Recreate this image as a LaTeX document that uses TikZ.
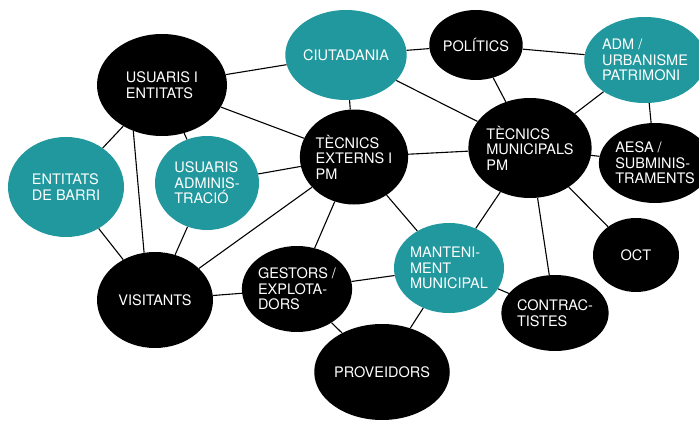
\documentclass[tikz,border=0pt]{standalone}
\usepackage{fontspec}
\setmainfont{TeX Gyre Heros}
\usetikzlibrary{shapes.geometric}
\definecolor{tealblob}{RGB}{32,152,158}
\tikzset{
    blob/.style={ellipse, inner sep=0pt, text=white, align=left,
        font=\fontsize{14.5}{15.5}\selectfont},
    darkblob/.style={blob, fill=black},
    tealblob/.style={blob, fill=tealblob},
    link/.style={draw=black, line width=1.1pt}
}
\begin{document}
\begin{tikzpicture}[x=1pt, y=-1pt]
        \useasboundingbox (0,0) rectangle (699,428);
        % nodes (positions in pixels of the sketch)
        \node[darkblob, minimum width=130, minimum height=102] (ue) at (162,85) {USUARIS I\\ENTITATS};
        \node[tealblob, minimum width=106, minimum height=90] (ciu) at (346,55) {CIUTADANIA};
        \node[darkblob, minimum width=92, minimum height=70] (pol) at (476,45) {POLÍTICS};
        \node[tealblob, minimum width=104, minimum height=86] (adm) at (645,60) {ADM /\\URBANISME\\PATRIMONI};
        \node[darkblob, minimum width=104, minimum height=100] (tm) at (530,148) {TÈCNICS\\MUNICIPALS\\PM};
        \node[darkblob, minimum width=86, minimum height=80] (aesa) at (655,163) {AESA /\\SUBMINIS-\\TRAMENTS};
        \node[darkblob, minimum width=96, minimum height=95] (te) at (354,157) {TÈCNICS\\EXTERNS I\\PM};
        \node[tealblob, minimum width=116, minimum height=100] (eb) at (66,187) {ENTITATS\\DE BARRI};
        \node[tealblob, minimum width=104, minimum height=94] (ua) at (207,183) {USUARIS\\ADMINIS-\\TRACIÓ};
        \node[darkblob, minimum width=116, minimum height=96] (vis) at (155,300) {VISITANTS};
        \node[darkblob, minimum width=104, minimum height=86] (ge) at (297,289) {GESTORS /\\EXPLOTA-\\DORS};
        \node[darkblob, minimum width=116, minimum height=96] (prov) at (382,372) {PROVEIDORS};
        \node[tealblob, minimum width=108, minimum height=90] (mm) at (449,268) {MANTENI-\\MENT\\MUNICIPAL};
        \node[darkblob, minimum width=86, minimum height=76] (con) at (555,313) {CONTRAC-\\TISTES};
        \node[darkblob, minimum width=86, minimum height=74] (oct) at (636,255) {OCT};
        % connectors
        \foreach \a/\b in {ue/ciu, ue/te, ue/eb, ue/ua, eb/vis, ua/vis, ua/te,
            ciu/pol, ciu/tm, ciu/te, pol/adm, pol/tm, adm/tm, adm/aesa, tm/aesa,
            tm/te, tm/mm, tm/con, tm/oct, te/vis, te/ge, te/mm, ge/vis, ge/mm,
            ge/prov, mm/prov, mm/con}
            \draw[link] (\a) -- (\b);
        \draw[link] (ue.238) -- (vis.103);
    \end{tikzpicture}
\end{document}
